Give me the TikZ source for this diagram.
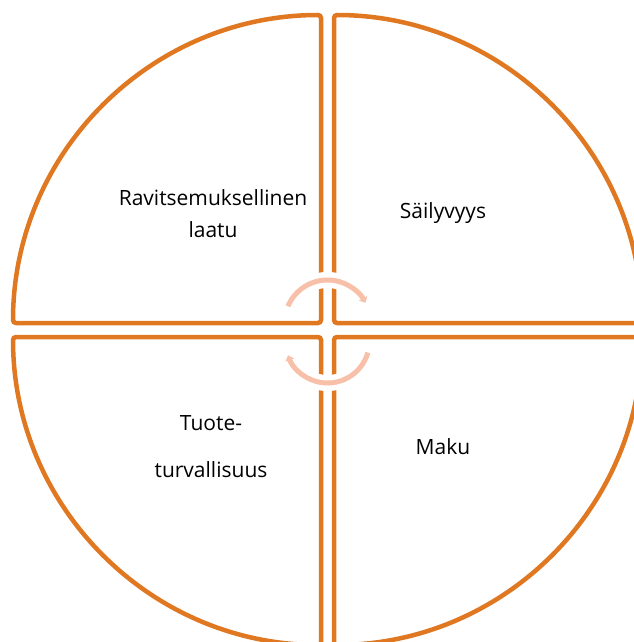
\documentclass[tikz,border=0pt]{standalone}
\usepackage{fontspec}
\setmainfont{Open Sans}
\usepackage{tikz}
\usetikzlibrary{arrows.meta}
\definecolor{quadorange}{RGB}{224,120,34}
\definecolor{cyclesalmon}{RGB}{248,192,168}

\begin{document}
\begin{tikzpicture}[x=1pt, y=-1pt,
    quad/.style={draw=quadorange, line width=4.5pt, rounded corners=3pt},
    halo/.style={draw=white, line width=16pt},
    cyc/.style={draw=cyclesalmon, line width=5pt, -{Triangle[length=5pt, width=9pt]}},
    lbl/.style={font=\fontsize{21}{32}\selectfont, align=center, inner sep=0pt}
]
    \useasboundingbox (0,0) rectangle (633,642);

    % four quarters of the disc
    \draw[quad] (321,323) -- (13,323) arc[start angle=180, end angle=270, radius=308] -- cycle;
    \draw[quad] (334,323) -- (334,15) arc[start angle=270, end angle=360, radius=308] -- cycle;
    \draw[quad] (321,337) -- (321,645) arc[start angle=90, end angle=180, radius=308] -- cycle;
    \draw[quad] (334,337) -- (642,337) arc[start angle=0, end angle=90, radius=308] -- cycle;

    % cycle arrows in the middle
    \coordinate (ctop) at (327.5,323);
    \coordinate (cbot) at (327.5,341);
    \draw[halo] (ctop) ++(203:43) arc[start angle=203, end angle=334, radius=43];
    \draw[halo] (cbot) ++(16:42) arc[start angle=16, end angle=162, radius=42];
    \draw[cyc] (ctop) ++(203:43) arc[start angle=203, end angle=332, radius=43];
    \draw[cyc] (cbot) ++(16:42) arc[start angle=16, end angle=160, radius=42];

    % labels
    \node[lbl] (ravitsemus)   at (213,214) {Ravitsemuksellinen\\laatu};
    \node[lbl] (sailyvyys)    at (443,213) {Säilyvyys};
    \node[lbl, font=\fontsize{21}{47}\selectfont] (turvallisuus) at (211,447) {Tuote-\\turvallisuus};
    \node[lbl] (maku)         at (443,447) {Maku};
\end{tikzpicture}
\end{document}
